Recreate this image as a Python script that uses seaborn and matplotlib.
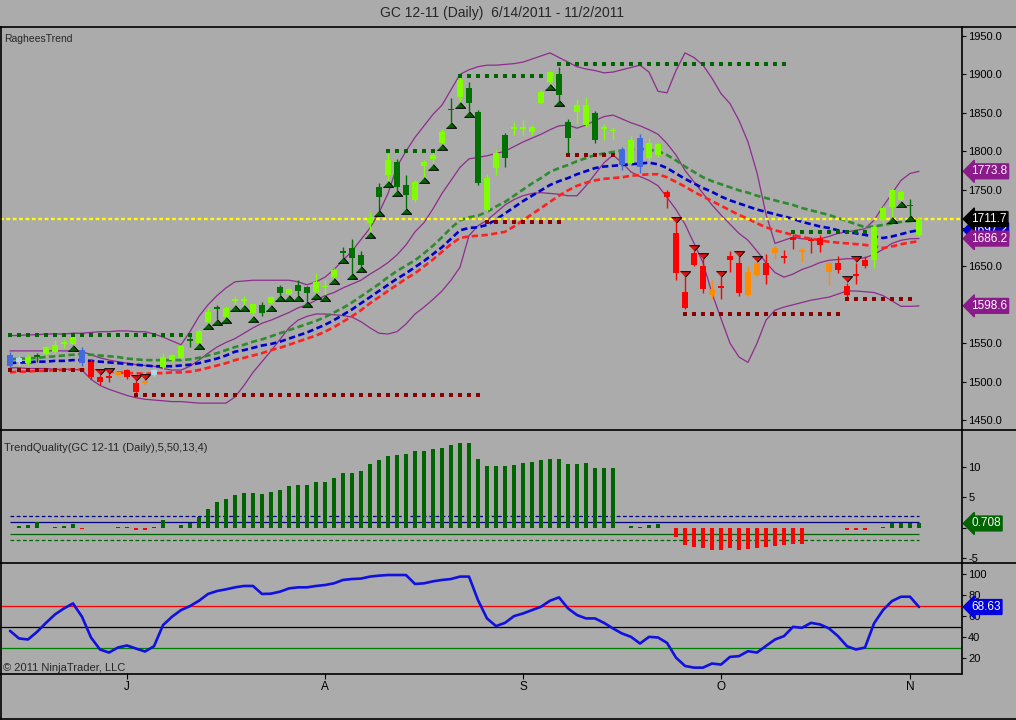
import numpy as np
import matplotlib.pyplot as plt
from matplotlib.lines import Line2D
import seaborn as sns

# GC 12-11 daily bars, 6/14/2011 - 11/2/2011
bar_open = [1520, 1531, 1524, 1535, 1536, 1539, 1549, 1549, 1541, 1526,
            1506, 1507, 1509, 1515, 1498, 1498, 1509, 1519, 1528, 1531,
            1555, 1550, 1577, 1597, 1584, 1605, 1605, 1589, 1600, 1602,
            1623, 1614, 1626, 1623, 1617, 1623, 1636, 1670, 1674, 1665,
            1707, 1754, 1769, 1786, 1756, 1736, 1781, 1790, 1811, 1855,
            1871, 1882, 1851, 1723, 1778, 1821, 1829, 1829, 1825, 1863,
            1890, 1900, 1838, 1851, 1834, 1850, 1829, 1826, 1801, 1785,
            1817, 1791, 1795, 1747, 1693, 1617, 1667, 1650, 1613, 1624,
            1664, 1654, 1613, 1639, 1654, 1667, 1663, 1688, 1671, 1683,
            1687, 1643, 1654, 1624, 1640, 1658, 1658, 1710, 1727, 1736,
            1730, 1691]
bar_high = [1539, 1533, 1536, 1537, 1547, 1554, 1556, 1560, 1545, 1529,
            1509, 1510, 1514, 1517, 1501, 1502, 1517, 1537, 1536, 1548,
            1561, 1568, 1596, 1600, 1598, 1611, 1611, 1603, 1604, 1612,
            1626, 1622, 1632, 1625, 1641, 1632, 1648, 1675, 1686, 1670,
            1721, 1758, 1798, 1790, 1769, 1762, 1789, 1798, 1829, 1869,
            1900, 1890, 1853, 1770, 1802, 1824, 1838, 1840, 1834, 1880,
            1905, 1910, 1842, 1868, 1870, 1852, 1836, 1831, 1806, 1820,
            1822, 1817, 1811, 1749, 1707, 1636, 1670, 1660, 1632, 1636,
            1670, 1662, 1650, 1656, 1666, 1676, 1671, 1692, 1674, 1688,
            1691, 1656, 1663, 1629, 1655, 1664, 1704, 1728, 1751, 1749,
            1738, 1714]
bar_low = [1517, 1522, 1522, 1526, 1534, 1537, 1544, 1548, 1520, 1503,
           1495, 1499, 1507, 1504, 1484, 1496, 1507, 1517, 1526, 1529,
           1545, 1550, 1576, 1582, 1584, 1600, 1600, 1585, 1586, 1600,
           1613, 1613, 1613, 1605, 1616, 1613, 1635, 1662, 1642, 1650,
           1695, 1723, 1761, 1750, 1726, 1734, 1767, 1784, 1809, 1838,
           1864, 1852, 1756, 1721, 1769, 1780, 1821, 1821, 1821, 1861,
           1888, 1867, 1798, 1836, 1832, 1811, 1814, 1814, 1776, 1783,
           1772, 1789, 1793, 1726, 1632, 1594, 1650, 1616, 1608, 1608,
           1643, 1612, 1611, 1637, 1627, 1660, 1655, 1673, 1656, 1668,
           1669, 1626, 1641, 1609, 1627, 1648, 1648, 1707, 1714, 1735,
           1717, 1689]
bar_close = [1535, 1525, 1532, 1532, 1545, 1548, 1551, 1558, 1524, 1506,
             1499, 1505, 1512, 1506, 1486, 1501, 1515, 1532, 1534, 1546,
             1553, 1566, 1591, 1595, 1596, 1607, 1607, 1601, 1589, 1610,
             1615, 1620, 1618, 1615, 1630, 1625, 1645, 1668, 1661, 1652,
             1713, 1741, 1789, 1753, 1743, 1760, 1786, 1795, 1825, 1853,
             1893, 1863, 1759, 1765, 1798, 1791, 1831, 1831, 1832, 1877,
             1903, 1873, 1817, 1860, 1860, 1815, 1831, 1828, 1782, 1815,
             1779, 1811, 1809, 1740, 1641, 1596, 1652, 1620, 1620, 1622,
             1658, 1615, 1643, 1654, 1639, 1674, 1661, 1684, 1669, 1685,
             1678, 1654, 1645, 1613, 1638, 1650, 1701, 1726, 1749, 1747,
             1728, 1711.7]
# bar paint: L lime, G dark green, B blue, b light blue, R red, O orange
bar_kind = list("BbLGLLLLBR"
                "RRORROb" "LLL"
                "GLLGLLLLGL"
                "GLGGLLLGGG"
                "LGLGGLLLLG"
                "LGGLLGLLLL"
                "LGGLLGLLBL"
                "BLLRRRRROR"
                "RROORORROR"
                "RORRRRLLLL"
                "GL")

# RagheesTrend lines
ema_green = [1529, 1530, 1530, 1531, 1532, 1533, 1534, 1535, 1536, 1535,
             1534, 1533, 1532, 1530, 1529, 1528, 1528, 1528, 1528, 1528,
             1529, 1531, 1534, 1537, 1541, 1545, 1548, 1552, 1555, 1559,
             1563, 1567, 1571, 1575, 1579, 1584, 1590, 1596, 1603, 1611,
             1619, 1627, 1636, 1644, 1651, 1658, 1667, 1677, 1688, 1700,
             1710, 1714, 1716, 1721, 1728, 1734, 1742, 1750, 1758, 1765,
             1773, 1778, 1782, 1787, 1791, 1795, 1797, 1799, 1801, 1802,
             1803, 1802, 1800, 1795, 1788, 1780, 1773, 1766, 1761, 1757,
             1753, 1749, 1746, 1742, 1739, 1736, 1733, 1730, 1726, 1723,
             1720, 1717, 1713, 1709, 1705, 1701, 1702, 1704, 1706, 1708,
             1709, 1710]
ema_blue = [1524, 1525, 1525, 1526, 1526, 1527, 1527, 1528, 1528, 1527,
            1526, 1525, 1524, 1523, 1522, 1521, 1520, 1520, 1520, 1521,
            1522, 1524, 1527, 1530, 1534, 1539, 1541, 1544, 1547, 1549,
            1552, 1556, 1560, 1564, 1569, 1574, 1580, 1587, 1594, 1602,
            1610, 1618, 1626, 1634, 1641, 1649, 1657, 1666, 1675, 1686,
            1697, 1700, 1701, 1704, 1711, 1719, 1727, 1735, 1742, 1749,
            1756, 1761, 1765, 1770, 1774, 1778, 1780, 1781, 1782, 1783,
            1784, 1785, 1783, 1778, 1771, 1764, 1758, 1752, 1747, 1741,
            1736, 1732, 1728, 1724, 1721, 1718, 1715, 1712, 1708, 1705,
            1702, 1700, 1697, 1695, 1693, 1691, 1689, 1687, 1689, 1692,
            1695, 1697.2]
ema_red = [1512, 1513, 1513, 1514, 1514, 1515, 1515, 1516, 1516, 1515,
           1514, 1513, 1512, 1511, 1511, 1510, 1511, 1511, 1512, 1512,
           1513, 1515, 1518, 1521, 1524, 1528, 1531, 1534, 1537, 1541,
           1544, 1548, 1552, 1556, 1560, 1565, 1571, 1578, 1585, 1593,
           1602, 1610, 1618, 1626, 1634, 1641, 1650, 1659, 1669, 1679,
           1687, 1689, 1690, 1691, 1693, 1695, 1702, 1710, 1718, 1726,
           1734, 1742, 1749, 1755, 1759, 1762, 1764, 1765, 1766, 1768,
           1769, 1770, 1770, 1766, 1760, 1754, 1747, 1741, 1735, 1729,
           1723, 1717, 1712, 1706, 1701, 1697, 1694, 1691, 1688, 1686,
           1684, 1682, 1681, 1680, 1679, 1678, 1676, 1674, 1676, 1679,
           1681, 1683]
band_upper = [1560, 1560, 1561, 1561, 1562, 1562, 1562, 1563, 1563, 1564,
              1565, 1565, 1566, 1566, 1565, 1565, 1562, 1558, 1553, 1548,
              1565, 1585, 1600, 1612, 1622, 1630, 1631, 1632, 1632, 1632,
              1632, 1632, 1630, 1626, 1630, 1636, 1646, 1658, 1670, 1685,
              1700, 1720, 1745, 1780, 1800, 1818, 1833, 1848, 1860, 1880,
              1900, 1906, 1910, 1912, 1912, 1913, 1914, 1916, 1920, 1924,
              1928, 1922, 1916, 1910, 1907, 1905, 1902, 1903, 1906, 1909,
              1912, 1903, 1878, 1876, 1905, 1928, 1922, 1912, 1895, 1875,
              1862, 1840, 1812, 1772, 1718, 1680, 1684, 1688, 1686, 1685,
              1686, 1689, 1693, 1695, 1697, 1699, 1710, 1728, 1745, 1762,
              1771, 1773.8]
band_mid = [1540, 1540, 1540, 1540, 1540, 1540, 1540, 1540, 1539, 1535,
            1531, 1528, 1526, 1524, 1522, 1521, 1520, 1517, 1515, 1515,
            1520, 1528, 1537, 1545, 1551, 1556, 1563, 1570, 1576, 1580,
            1585, 1590, 1596, 1600, 1606, 1612, 1616, 1622, 1627, 1632,
            1640, 1647, 1655, 1665, 1678, 1695, 1707, 1725, 1745, 1762,
            1779, 1790, 1792, 1794, 1797, 1800, 1806, 1812, 1817, 1822,
            1828, 1833, 1834, 1830, 1834, 1840, 1845, 1847, 1842, 1837,
            1833, 1828, 1822, 1810, 1795, 1775, 1760, 1745, 1730, 1717,
            1705, 1693, 1684, 1670, 1655, 1642, 1636, 1640, 1646, 1650,
            1655, 1658, 1659, 1660, 1660, 1661, 1666, 1672, 1680, 1684,
            1686, 1686.2]
band_lower = [1518, 1518, 1517, 1517, 1517, 1516, 1516, 1516, 1515, 1503,
              1495, 1490, 1486, 1482, 1479, 1477, 1476, 1475, 1474, 1474,
              1473, 1472, 1472, 1472, 1472, 1480, 1495, 1512, 1526, 1540,
              1555, 1570, 1580, 1585, 1588, 1588, 1587, 1586, 1584, 1578,
              1570, 1563, 1562, 1565, 1575, 1588, 1597, 1607, 1618, 1632,
              1649, 1690, 1703, 1710, 1720, 1730, 1737, 1742, 1745, 1746,
              1745, 1744, 1742, 1742, 1755, 1770, 1785, 1795, 1785, 1773,
              1767, 1762, 1755, 1740, 1724, 1705, 1680, 1655, 1615, 1582,
              1550, 1532, 1525, 1550, 1580, 1593, 1597, 1600, 1603, 1606,
              1608, 1610, 1614, 1618, 1618, 1617, 1616, 1612, 1605, 1598,
              1598, 1598.6]

# dotted swing levels: level, first bar, last bar
res_level = [1561, 1800, 1898, 1913, 1695]
res_first = [0, 42, 50, 61, 87]
res_last = [20, 47, 59, 86, 95]
sup_level = [1515, 1483, 1708, 1795, 1588, 1607]
sup_first = [0, 14, 53, 62, 75, 93]
sup_last = [8, 52, 61, 67, 92, 100]

up_signal_bars = [7, 21, 22, 23, 24, 25, 26, 27, 29, 30, 31, 32, 33, 34, 35,
                  36, 37, 38, 39, 40, 41, 42, 43, 44, 46, 47, 48, 49, 50, 51,
                  60, 61, 98, 99, 100]
down_signal_bars = [10, 11, 14, 15, 74, 75, 76, 77, 79, 81, 83, 93, 94]
last_price = 1711.7

# TrendQuality(5,50,13,4)
tq_values = [0, 0.3, 0.4, 0.9, 0, 0.1, 0.3, 0.6, -0.2, 0,
             -0.1, -0.1, 0.2, 0.1, -0.4, -0.4, 0.1, 1.2, 0, 0.4,
             0.8, 1.8, 3.1, 4.3, 4.7, 5.4, 5.7, 5.7, 5.6, 5.9,
             6.2, 6.8, 7.0, 7.0, 7.6, 7.6, 8.2, 9.0, 9.1, 9.4,
             10.5, 11.1, 11.9, 12.0, 12.2, 12.6, 12.7, 12.9, 13.2, 13.7,
             13.9, 14.0, 11.4, 10.1, 10.1, 10.1, 10.3, 10.6, 10.9, 11.1,
             11.4, 11.4, 10.5, 10.5, 10.7, 9.8, 9.8, 9.8, 0, 0.3,
             0.1, 0.4, 0.6, -0.1, -1.6, -2.9, -3.1, -3.3, -3.6, -3.7,
             -3.4, -3.7, -3.5, -3.3, -3.1, -3.0, -2.9, -2.7, -2.7, 0,
             0, 0, 0, -0.3, -0.3, -0.3, 0, 0.2, 0.8, 0.8,
             0.8, 0.708]
tq_levels = [2, 1, -1, -2]

# lower oscillator
osc_values = [46, 38.8, 37.8, 45, 53.6, 61.6, 67.3, 72, 59.4, 39.7,
              28.3, 25.4, 30.2, 32.1, 29.2, 26.4, 31.4, 51.4, 59.4, 65.7,
              69.5, 74.6, 81, 83.8, 85.4, 87.3, 88.6, 88.6, 81, 81.3,
              83.2, 86.3, 87.3, 87.3, 88.6, 89.5, 91.1, 94.3, 95.2, 95.6,
              97.5, 98.4, 99, 99, 99, 90.5, 91.1, 93, 94.3, 95.2,
              97.5, 97.5, 75.2, 57.8, 50.5, 53.6, 60, 62.5, 65.7, 68.9,
              74.6, 77.8, 67.3, 61, 57.8, 57.8, 53.6, 48.3, 43.5, 40.3,
              34, 40.3, 39.7, 34.6, 20.6, 12.7, 11.1, 11.1, 15, 14,
              21.3, 22, 26.7, 25.4, 31.7, 37.8, 41, 49.8, 48.9, 53.6,
              52.1, 48.3, 41, 31.4, 28.3, 30.2, 53, 65.7, 74.3, 78.4,
              78.4, 68.63]
osc_levels = [70, 50, 30]

month_bars = [13, 35, 57, 79, 100]
month_labels = ['J', 'A', 'S', 'O', 'N']

# ---------------------------------------------------------------------------
sns.set_theme(style='white')
plt.rcParams['font.family'] = ['Liberation Sans', 'DejaVu Sans']

BG = '#ababab'
W, H = 1016, 720
kind_color = {'L': '#80ff00', 'G': '#007000', 'B': '#4169e1',
              'b': '#add8e6', 'R': '#ff0000', 'O': '#ff8c00'}
PURPLE = '#8e2c8e'

fig = plt.figure(figsize=(W / 100, H / 100), dpi=100, facecolor=BG)


def px_axes(x0, y0, x1, y1):
    a = fig.add_axes([x0 / W, 1 - y1 / H, (x1 - x0) / W, (y1 - y0) / H])
    a.set_facecolor(BG)
    for s in a.spines.values():
        s.set_visible(False)
    a.set_xlim(-10 / 9, 952 / 9)
    a.yaxis.tick_right()
    a.tick_params(axis='y', direction='out', length=3, width=0.8,
                  colors='black', labelsize=8, pad=1.5, right=True, left=False)
    a.tick_params(axis='x', bottom=False, labelbottom=False)
    return a


ax_p = px_axes(0, 27, 962, 430)
ax_t = px_axes(0, 430, 962, 563)
ax_o = px_axes(0, 563, 962, 673)

bars = np.arange(len(bar_close))
o = np.array(bar_open, float)
c = np.array(bar_close, float)
hi = np.array(bar_high, float)
lo = np.array(bar_low, float)
cols = [kind_color[k] for k in bar_kind]

# ---- price panel ----
ax_p.set_ylim(1437.0, 1961.7)
for band in (band_upper, band_mid, band_lower):
    sns.lineplot(x=bars, y=band, color=PURPLE, linewidth=0.9, ax=ax_p,
                 legend=False, zorder=2)
for ema, col in ((ema_green, '#2e8b2e'), (ema_blue, '#0000cd'), (ema_red, '#ff2020')):
    sns.lineplot(x=bars, y=ema, color=col, linewidth=1.9, linestyle=(0, (2.4, 1.3)),
                 ax=ax_p, legend=False, zorder=2.5)

ax_p.axhline(last_price, color='#ffff00', lw=1.7, linestyle=(0, (1.6, 1.1)), zorder=3)

for levels, firsts, lasts, col in ((res_level, res_first, res_last, '#006400'),
                                   (sup_level, sup_first, sup_last, '#8b0000')):
    for lv, f, l in zip(levels, firsts, lasts):
        xs = np.arange(f, l + 1)
        sns.scatterplot(x=xs, y=np.full(len(xs), lv), marker='s', s=9, color=col,
                        linewidth=0, ax=ax_p, legend=False, zorder=4.5)

ax_p.vlines(bars, lo, hi, colors=cols, lw=1.0, zorder=3.5)
ax_p.bar(bars, np.maximum(np.abs(c - o), 2.0), bottom=np.minimum(o, c), width=0.74,
         color=cols, linewidth=0, zorder=4)

tri_up = [(-1, -0.55), (1, -0.55), (0, 0.55)]
tri_dn = [(-1, 0.55), (1, 0.55), (0, -0.55)]
ub = np.array(up_signal_bars)
db = np.array(down_signal_bars)
sns.scatterplot(x=ub, y=lo[ub] - 4, marker=tri_up, s=55, color='#006400',
                edgecolor='black', linewidth=0.7, ax=ax_p, legend=False, zorder=5)
sns.scatterplot(x=db, y=hi[db] + 4, marker=tri_dn, s=55, color='#e01010',
                edgecolor='black', linewidth=0.7, ax=ax_p, legend=False, zorder=5)

# 1600 and 1700 sit under the value tags, as in the original
p_ticks = np.arange(1450, 1951, 50)
ax_p.set_yticks(p_ticks)
ax_p.set_yticklabels(['' if t in (1600, 1700) else f'{t:.1f}' for t in p_ticks])


def tag(ax, val, text, fc, z):
    ax.annotate(text, xy=(1, val), xycoords=('axes fraction', 'data'),
                xytext=(6.5, 0), textcoords='offset points', ha='left', va='center',
                fontsize=8.5, color='white', annotation_clip=False, zorder=z,
                bbox=dict(boxstyle='larrow,pad=0.12', fc=fc, ec=fc))


tag(ax_p, band_upper[-1], f'{band_upper[-1]:.1f}', '#8b1a8b', 10)
tag(ax_p, ema_red[-1] - 2.5, '', '#e00000', 10)
tag(ax_p, ema_blue[-1], f'{ema_blue[-1]:.1f}', '#0000cd', 11)
tag(ax_p, band_mid[-1], f'{band_mid[-1]:.1f}', '#8b1a8b', 12)
tag(ax_p, last_price, f'{last_price:.1f}', 'black', 13)
tag(ax_p, band_lower[-1], f'{band_lower[-1]:.1f}', '#8b1a8b', 10)

# ---- TrendQuality panel ----
ax_t.set_ylim(-5.8, 16.1)
tq = np.array(tq_values)
ax_t.bar(bars, tq, width=0.38, color=np.where(tq >= 0, '#006400', '#ff0000'),
         linewidth=0, zorder=3)
for lv, col, ls in zip(tq_levels, ['#000080', '#000080', '#006400', '#006400'],
                       [(0, (3, 2)), '-', '-', (0, (3, 2))]):
    ax_t.hlines(lv, bars[0], bars[-1], colors=col, lw=0.9, linestyles=ls, zorder=2)
ax_t.set_yticks([-5, 0, 5, 10])
ax_t.set_yticklabels(['-5', '', '5', '10'])
tag(ax_t, tq_values[-1], f'{tq_values[-1]:.3f}', '#006400', 10)

# ---- oscillator panel ----
ax_o.set_ylim(6.0, 110.4)
for lv, col in zip(osc_levels, ['#ff0000', 'black', '#008000']):
    ax_o.axhline(lv, color=col, lw=0.9, zorder=2)
sns.lineplot(x=bars, y=osc_values, color='#1010e0', linewidth=1.9, ax=ax_o,
             legend=False, zorder=3)
ax_o.set_yticks([20, 40, 60, 80, 100])
ax_o.set_yticklabels(['20', '40', '60', '80', '100'])
ax_o.set_xticks(month_bars)
ax_o.set_xticklabels(month_labels)
ax_o.tick_params(axis='x', bottom=True, labelbottom=True, direction='out',
                 length=4, width=0.8, colors='black', labelsize=8.5, pad=2)
tag(ax_o, osc_values[-1], f'{osc_values[-1]:.2f}', '#0000e0', 10)
for a in (ax_p, ax_t, ax_o):
    a.set_xlabel('')
    a.set_ylabel('')


# ---- frame lines and captions ----
def fline(x0, y0, x1, y1, lw=1.2):
    fig.add_artist(Line2D([x0 / W, x1 / W], [1 - y0 / H, 1 - y1 / H], color='black',
                          lw=lw, transform=fig.transFigure, zorder=20))


fline(0, 27, W, 27)
fline(0, 430, W, 430)
fline(0, 563, W, 563)
fline(0, 673.5, 962, 673.5)
fline(962, 27, 962, 673.5)
fline(0.7, 27, 0.7, 719)
fline(0, 719, W, 719)

fig.text(502 / W, 1 - 13 / H, 'GC 12-11 (Daily)  6/14/2011 - 11/2/2011',
         ha='center', va='center', fontsize=10)
fig.text(4 / W, 1 - 39 / H, 'RagheesTrend', ha='left', va='center', fontsize=7.5)
fig.text(4 / W, 1 - 448 / H, 'TrendQuality(GC 12-11 (Daily),5,50,13,4)',
         ha='left', va='center', fontsize=8)
fig.text(3 / W, 1 - 668 / H, '\u00a9 2011 NinjaTrader, LLC', ha='left', va='center',
         fontsize=8)

fig.savefig('out.png', dpi=100, facecolor=BG)
